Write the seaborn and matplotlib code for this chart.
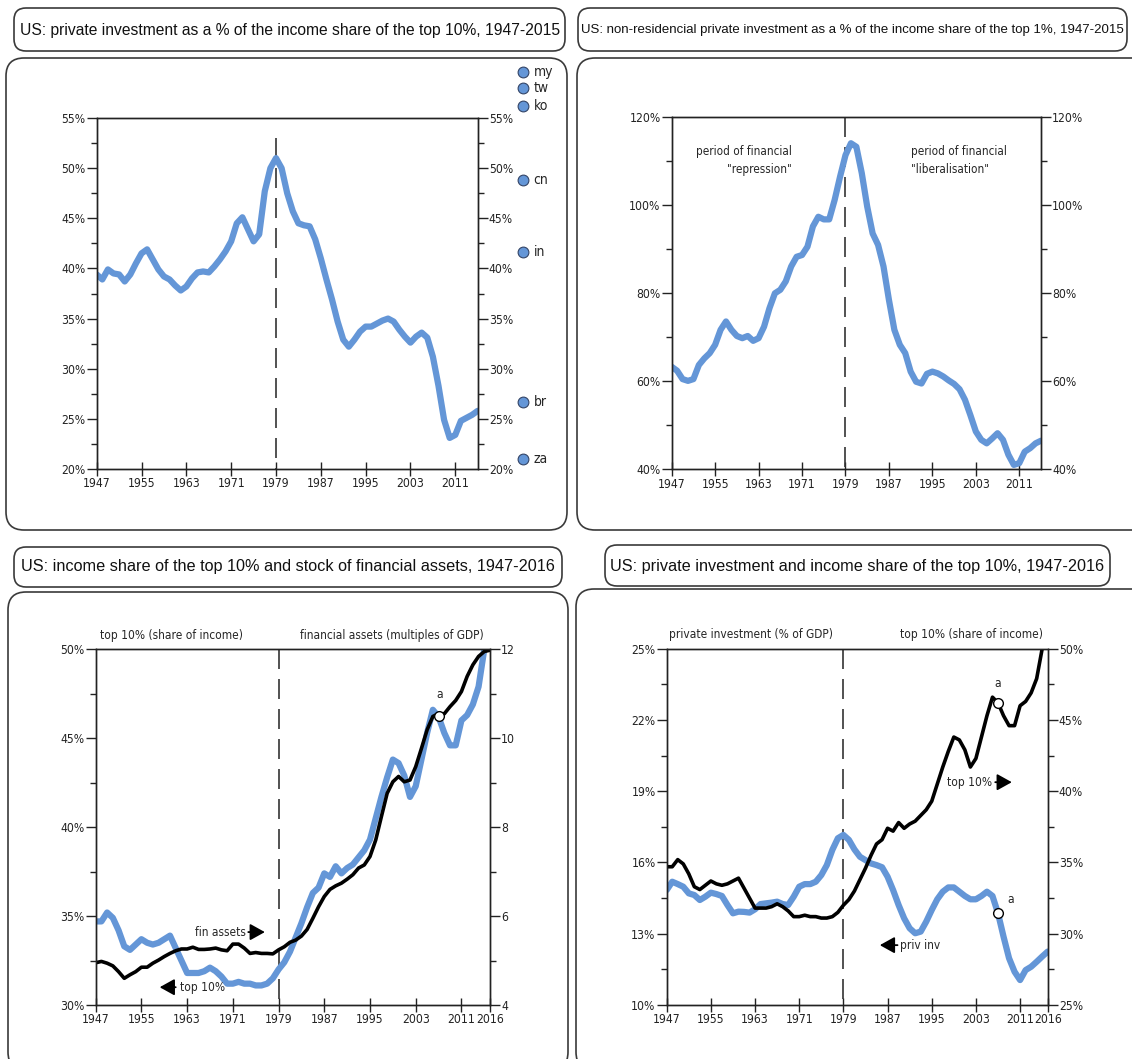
import numpy as np
import pandas as pd
import seaborn as sns
from matplotlib import pyplot as plt
from matplotlib.patches import FancyBboxPatch
from matplotlib.transforms import IdentityTransform
from matplotlib.ticker import FuncFormatter

# ---- data ----
years_15 = list(range(1947, 2016))
years_16 = list(range(1947, 2017))

# private investment as % of income share of top 10%
inv_top10 = [39.4, 38.9, 39.9, 39.5, 39.4, 38.7, 39.4, 40.5, 41.5, 41.9,
             40.9, 39.9, 39.2, 38.9, 38.3, 37.8, 38.2, 39.0, 39.6, 39.7,
             39.6, 40.2, 40.9, 41.7, 42.7, 44.5, 45.1, 43.9, 42.7, 43.4,
             47.7, 50.0, 51.0, 50.0, 47.5, 45.7, 44.5, 44.3, 44.2, 42.9,
             41.0, 38.9, 36.9, 34.7, 32.9, 32.2, 32.9, 33.7, 34.2, 34.2,
             34.5, 34.8, 35.0, 34.7, 33.9, 33.2, 32.6, 33.2, 33.6, 33.1,
             31.2, 28.3, 24.9, 23.1, 23.4, 24.8, 25.1, 25.4, 25.8]

country_codes = ['my', 'tw', 'ko', 'cn', 'in', 'br', 'za']
country_values = [59.6, 58.0, 56.2, 48.8, 41.6, 26.7, 21.0]

# non-residential private investment as % of income share of top 1%
nonres_top1 = [63.3, 62.4, 60.5, 60.1, 60.5, 63.7, 65.2, 66.4, 68.3, 71.7,
               73.6, 71.7, 70.3, 69.8, 70.3, 69.2, 69.8, 72.4, 76.6, 80.0,
               80.8, 82.7, 86.1, 88.3, 88.7, 90.6, 95.2, 97.4, 96.8, 96.8,
               101.2, 106.5, 111.4, 114.1, 113.3, 107.3, 99.7, 93.6, 91.0, 86.1,
               78.5, 71.7, 68.3, 66.4, 62.2, 59.9, 59.5, 61.7, 62.2, 61.8,
               61.1, 60.2, 59.4, 58.2, 55.8, 52.3, 48.6, 46.7, 45.9, 47.0,
               48.2, 46.7, 43.3, 41.0, 41.4, 44.0, 44.8, 45.9, 46.5]

# income share of top 10% (1947-2015)
top10 = [34.7, 34.7, 35.2, 34.9, 34.2, 33.3, 33.1, 33.4, 33.7, 33.5,
         33.4, 33.5, 33.7, 33.9, 33.2, 32.5, 31.8, 31.8, 31.8, 31.9,
         32.1, 31.9, 31.6, 31.2, 31.2, 31.3, 31.2, 31.2, 31.1, 31.1,
         31.2, 31.5, 32.0, 32.4, 33.0, 33.8, 34.6, 35.5, 36.3, 36.6,
         37.4, 37.2, 37.8, 37.4, 37.7, 37.9, 38.3, 38.7, 39.3, 40.5,
         41.7, 42.8, 43.8, 43.6, 42.9, 41.7, 42.3, 43.8, 45.3, 46.6,
         46.2, 45.3, 44.6, 44.6, 46.0, 46.3, 46.9, 47.9, 50.0]

# stock of financial assets, multiples of GDP (1947-2016)
fin_assets = [4.95, 4.98, 4.94, 4.88, 4.75, 4.60, 4.68, 4.75, 4.85, 4.85,
              4.94, 5.01, 5.09, 5.16, 5.22, 5.26, 5.26, 5.30, 5.25, 5.25,
              5.26, 5.28, 5.24, 5.22, 5.37, 5.37, 5.28, 5.16, 5.18, 5.16,
              5.16, 5.15, 5.24, 5.31, 5.41, 5.46, 5.55, 5.70, 5.95, 6.21,
              6.44, 6.60, 6.68, 6.74, 6.83, 6.93, 7.08, 7.15, 7.34, 7.71,
              8.24, 8.76, 9.02, 9.14, 9.02, 9.06, 9.36, 9.77, 10.19, 10.49,
              10.55, 10.55, 10.71, 10.85, 11.05, 11.39, 11.65, 11.84, 11.95, 11.98]

# private investment, % of GDP (1947-2016)
priv_inv = [14.84, 15.19, 15.09, 14.98, 14.70, 14.63, 14.42, 14.56, 14.73, 14.67,
            14.59, 14.21, 13.86, 13.93, 13.92, 13.89, 14.03, 14.25, 14.28, 14.31,
            14.35, 14.25, 14.21, 14.56, 14.98, 15.09, 15.09, 15.19, 15.47, 15.89,
            16.53, 17.02, 17.16, 16.95, 16.55, 16.24, 16.10, 15.96, 15.89, 15.80,
            15.40, 14.84, 14.21, 13.65, 13.23, 13.02, 13.09, 13.51, 14.00, 14.45,
            14.77, 14.95, 14.95, 14.77, 14.59, 14.45, 14.45, 14.59, 14.77, 14.59,
            13.86, 12.88, 11.97, 11.40, 11.05, 11.47, 11.61, 11.82, 12.04, 12.25]

titles = ['US: private investment as a % of the income share of the top 10%, 1947-2015',
          'US: non-residencial private investment as a % of the income share of the top 1%, 1947-2015',
          'US: income share of the top 10% and stock of financial assets, 1947-2016',
          'US: private investment and income share of the top 10%, 1947-2016']

xticks_15 = [1947, 1955, 1963, 1971, 1979, 1987, 1995, 2003, 2011]
xticks_16 = xticks_15 + [2016]

BLUE = '#6496d7'
W, H = 1132, 1059
FS = 8.7    # tick labels
TS = 8.6    # notes inside the panels

sns.set_style('ticks')
plt.rcParams['font.family'] = ['DejaVu Sans']
plt.rcParams['font.stretch'] = 'condensed'
plt.rcParams['axes.linewidth'] = 1.0
plt.rcParams['axes.edgecolor'] = '#222222'
plt.rcParams['xtick.color'] = '#222222'
plt.rcParams['ytick.color'] = '#222222'

fig = plt.figure(figsize=(W / 100, H / 100), dpi=100)


def px_axes(x0, y0, x1, y1):
    return fig.add_axes([x0 / W, 1 - y1 / H, (x1 - x0) / W, (y1 - y0) / H])


def rbox(x0, y0, x1, y1, r):
    p = FancyBboxPatch((x0, H - y1), x1 - x0, y1 - y0,
                       boxstyle=f'round,pad=0,rounding_size={r}',
                       transform=IdentityTransform(), fc='none',
                       ec='#3a3a3a', lw=1.2)
    fig.add_artist(p)


def title(xc, yc, s, size=11.7):
    fig.text(xc / W, 1 - yc / H, s, ha='center', va='center', fontsize=size,
             family=['Liberation Sans', 'DejaVu Sans'], fontstretch='normal',
             color='#111111')


pct = FuncFormatter(lambda v, p: f'{v:.0f}%')


def style(ax, xmax, xticks):
    ax.set_xlim(1947, xmax)
    ax.set_xticks(xticks)
    ax.tick_params(axis='x', direction='inout', length=10, width=1,
                   labelsize=FS, pad=1)
    ax.tick_params(axis='y', which='major', direction='out', length=7,
                   width=1, labelsize=FS, pad=1)
    ax.tick_params(axis='y', which='minor', direction='out', length=4, width=1)
    for s in ax.spines.values():
        s.set_visible(True)


def right_axis(ax, lo, hi, major, minor, fmt=None):
    b = ax.twinx()
    b.set_ylim(lo, hi)
    b.set_yticks(major)
    b.set_yticks(minor, minor=True)
    if fmt is not None:
        b.yaxis.set_major_formatter(fmt)
    b.tick_params(axis='y', which='major', direction='out', length=7, width=1,
                  labelsize=FS, pad=1)
    b.tick_params(axis='y', which='minor', direction='out', length=4, width=1)
    return b


def vline(ax, top, bottom):
    ax.plot([1979, 1979], [top, bottom], color='#333333', lw=1.2,
            ls=(0, (12, 6)), zorder=1)


def arrow(ax, head, tail):
    ax.annotate('', xy=head, xytext=tail,
                arrowprops=dict(arrowstyle='-|>,head_length=0.9,head_width=0.5',
                                lw=1.3, color='k', shrinkA=0, shrinkB=0,
                                mutation_scale=10))


# frames and title boxes
rbox(14, 8, 565, 51, 12)
rbox(6, 58, 567, 530, 18)
rbox(578, 8, 1127, 51, 12)
rbox(577, 58, 1150, 530, 18)
rbox(14, 547, 562, 587, 12)
rbox(8, 592, 568, 1070, 18)
rbox(605, 545, 1110, 586, 12)
rbox(576, 589, 1150, 1070, 18)
title(290, 30, titles[0], size=11.25)
title(852, 30, titles[1], size=9.5)
title(288, 567, titles[2])
title(857, 566, titles[3])

# ---- panel 1 ----
ax1 = px_axes(96.7, 118, 477.7, 469)
sns.lineplot(x=years_15, y=inv_top10, ax=ax1, color=BLUE, linewidth=4.5)
ax1.set_ylim(20, 55)
style(ax1, 2015, xticks_15)
ax1.set_yticks(np.arange(20, 56, 5))
ax1.set_yticks(np.arange(20, 56, 2.5), minor=True)
ax1.yaxis.set_major_formatter(pct)
vline(ax1, 53, 20)
ax1b = right_axis(ax1, 20, 55, np.arange(20, 56, 5), np.arange(20, 56, 2.5), pct)
cx = [2023.1] * len(country_codes)
ax1.scatter(cx, country_values, s=60, color=BLUE, edgecolor='#334466',
            linewidth=0.8, clip_on=False, zorder=5)
for code, v in zip(country_codes, country_values):
    ax1.text(2025.0, v, code, ha='left', va='center', fontsize=10,
             clip_on=False)

# ---- panel 2 ----
ax2 = px_axes(671.7, 117.3, 1041, 469.3)
sns.lineplot(x=years_15, y=nonres_top1, ax=ax2, color=BLUE, linewidth=4.5)
ax2.set_ylim(40, 120)
style(ax2, 2015, xticks_15)
ax2.set_yticks(np.arange(40, 121, 20))
ax2.set_yticks(np.arange(40, 121, 10), minor=True)
ax2.yaxis.set_major_formatter(pct)
vline(ax2, 120, 40)
ax2b = right_axis(ax2, 40, 120, np.arange(40, 121, 20), np.arange(40, 121, 10), pct)
ax2.text(1969.1, 110.2, 'period of financial\n"repression"', ha='right',
         va='center', multialignment='right', fontsize=8.4, linespacing=1.45)
ax2.text(1991.0, 110.2, 'period of financial\n"liberalisation"', ha='left',
         va='center', multialignment='left', fontsize=8.4, linespacing=1.45)

# ---- panel 3 ----
ax3 = px_axes(95.7, 649.3, 490, 1005)
sns.lineplot(x=years_15, y=top10, ax=ax3, color=BLUE, linewidth=4.5)
ax3.set_ylim(30, 50)
style(ax3, 2016, xticks_16)
ax3.set_yticks(np.arange(30, 51, 5))
ax3.set_yticks(np.arange(30, 51, 2.5), minor=True)
ax3.yaxis.set_major_formatter(pct)
vline(ax3, 50, 30)
ax3b = right_axis(ax3, 4, 12, np.arange(4, 13, 2), np.arange(4, 13, 1))
sns.lineplot(x=years_16, y=fin_assets, ax=ax3b, color='black', linewidth=2.6)
i07 = years_15.index(2007)
ax3b.plot([2007], [fin_assets[i07] - 0.05], 'o', mfc='white', mec='black',
          ms=7, mew=1, zorder=6)
ax3b.annotate('a', (2007, fin_assets[i07]), xytext=(1, 14),
              textcoords='offset points', ha='center', va='center', fontsize=TS)
tr3 = ax3.get_xaxis_transform()
ax3.text(1947.8, 1.04, 'top 10% (share of income)', transform=tr3, ha='left',
         va='center', fontsize=TS)
ax3.text(2014.9, 1.04, 'financial assets (multiples of GDP)', transform=tr3,
         ha='right', va='center', fontsize=TS)
ax3.text(1973.3, 34.1, 'fin assets', ha='right', va='center', fontsize=TS)
arrow(ax3, (1976.6, 34.1), (1973.7, 34.1))
ax3.text(1961.7, 31.0, 'top 10%', ha='left', va='center', fontsize=TS)
arrow(ax3, (1958.2, 31.0), (1961.0, 31.0))

# ---- panel 4 ----
ax4 = px_axes(666.7, 648.7, 1047.7, 1005)
sns.lineplot(x=years_16, y=priv_inv, ax=ax4, color=BLUE, linewidth=4.5)
ax4.set_ylim(10, 25)
style(ax4, 2016, xticks_16)
ax4.set_yticks(np.arange(10, 25.1, 3))
ax4.set_yticks(np.arange(10, 25.1, 1.5), minor=True)
ax4.yaxis.set_major_formatter(pct)
vline(ax4, 25, 10)
ax4b = right_axis(ax4, 25, 50, np.arange(25, 51, 5), np.arange(25, 51, 2.5), pct)
sns.lineplot(x=years_15, y=top10, ax=ax4b, color='black', linewidth=2.6)
ax4b.plot([2007], [top10[i07]], 'o', mfc='white', mec='black', ms=7, mew=1,
          zorder=6)
ax4b.annotate('a', (2007, top10[i07]), xytext=(0, 14),
              textcoords='offset points', ha='center', va='center', fontsize=TS)
ax4b.plot([2007], [priv_inv[i07]], 'o', mfc='white', mec='black', ms=7,
          mew=1, zorder=6, transform=ax4.transData)
ax4.annotate('a', (2007, priv_inv[i07]), xytext=(9, 10),
             textcoords='offset points', ha='center', va='center', fontsize=TS)
tr4 = ax4.get_xaxis_transform()
ax4.text(1947.5, 1.04, 'private investment (% of GDP)', transform=tr4,
         ha='left', va='center', fontsize=TS)
ax4.text(2015.2, 1.04, 'top 10% (share of income)', transform=tr4, ha='right',
         va='center', fontsize=TS)
ax4.text(2006.0, 19.38, 'top 10%', ha='right', va='center', fontsize=TS)
arrow(ax4, (2009.5, 19.38), (2006.5, 19.38))
ax4.text(1989.3, 12.52, 'priv inv', ha='left', va='center', fontsize=TS)
arrow(ax4, (1985.6, 12.52), (1988.8, 12.52))

for a in (ax1, ax2, ax3, ax4, ax1b, ax2b, ax3b, ax4b):
    a.set_ylabel('')
    a.set_xlabel('')

fig.savefig('out.png', dpi=100)
